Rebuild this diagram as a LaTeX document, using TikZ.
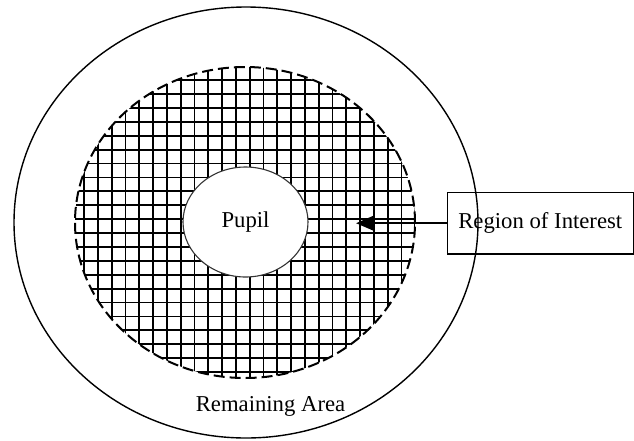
\documentclass[tikz,border=0pt]{standalone}
\usepackage{fontspec}
\setmainfont{Liberation Serif}
\usetikzlibrary{shapes.geometric,arrows.meta}

\tikzset{
  ring/.style={draw, ellipse, inner sep=0pt, line width=1.4pt},
  roiedge/.style={draw, ellipse, inner sep=0pt, line width=2pt, dash pattern=on 11pt off 5pt},
  pupilshape/.style={draw=black!80, fill=white, ellipse, inner sep=0pt, line width=1.1pt},
  gridline/.style={line width=1.8pt},
  labelbox/.style={draw, line width=1.2pt, inner sep=0pt},
  pointer/.style={line width=2.2pt, -{Triangle[length=17pt,width=14pt]}},
  txt/.style={font=\fontsize{22.7}{27}\selectfont}
}

\begin{document}
\begin{tikzpicture}[x=1pt, y=-1pt]
  \useasboundingbox (0,0) rectangle (634,440);
  \fill[white] (0,0) rectangle (634,440);

  % outer boundary of the eye
  \node[ring, minimum width=464pt, minimum height=431pt] (eye) at (246,222.5) {};

  % hatched region of interest, clipped to its ellipse
  \begin{scope}
    \clip (245,222.5) ellipse [x radius=170pt, y radius=155.5pt];
    \foreach \k in {-8,...,17} {
      \draw[gridline] (180.7+13.8*\k, 60) -- (180.7+13.8*\k, 390);
    }
    \foreach \k in {-7,...,16} {
      \draw[gridline] (70, 163.5+13.9*\k) -- (420, 163.5+13.9*\k);
    }
  \end{scope}
  \node[roiedge, minimum width=340pt, minimum height=311pt] (roi) at (245,222.5) {};

  % pupil
  \node[pupilshape, txt, minimum width=125pt, minimum height=110pt] (pupil) at (245.5,222) {Pupil};

  % label box with pointer into the hatched region
  \node[labelbox, txt, minimum width=186pt, minimum height=61.5pt] (roilabel) at (540.3,223.2) {Region of Interest};
  \coordinate (tip) at (356,223.2);
  \draw[pointer] (roilabel.west) -- (tip);

  % label for the area between the two ellipses
  \node[txt] (rest) at (270.5,406) {Remaining Area};
\end{tikzpicture}
\end{document}
